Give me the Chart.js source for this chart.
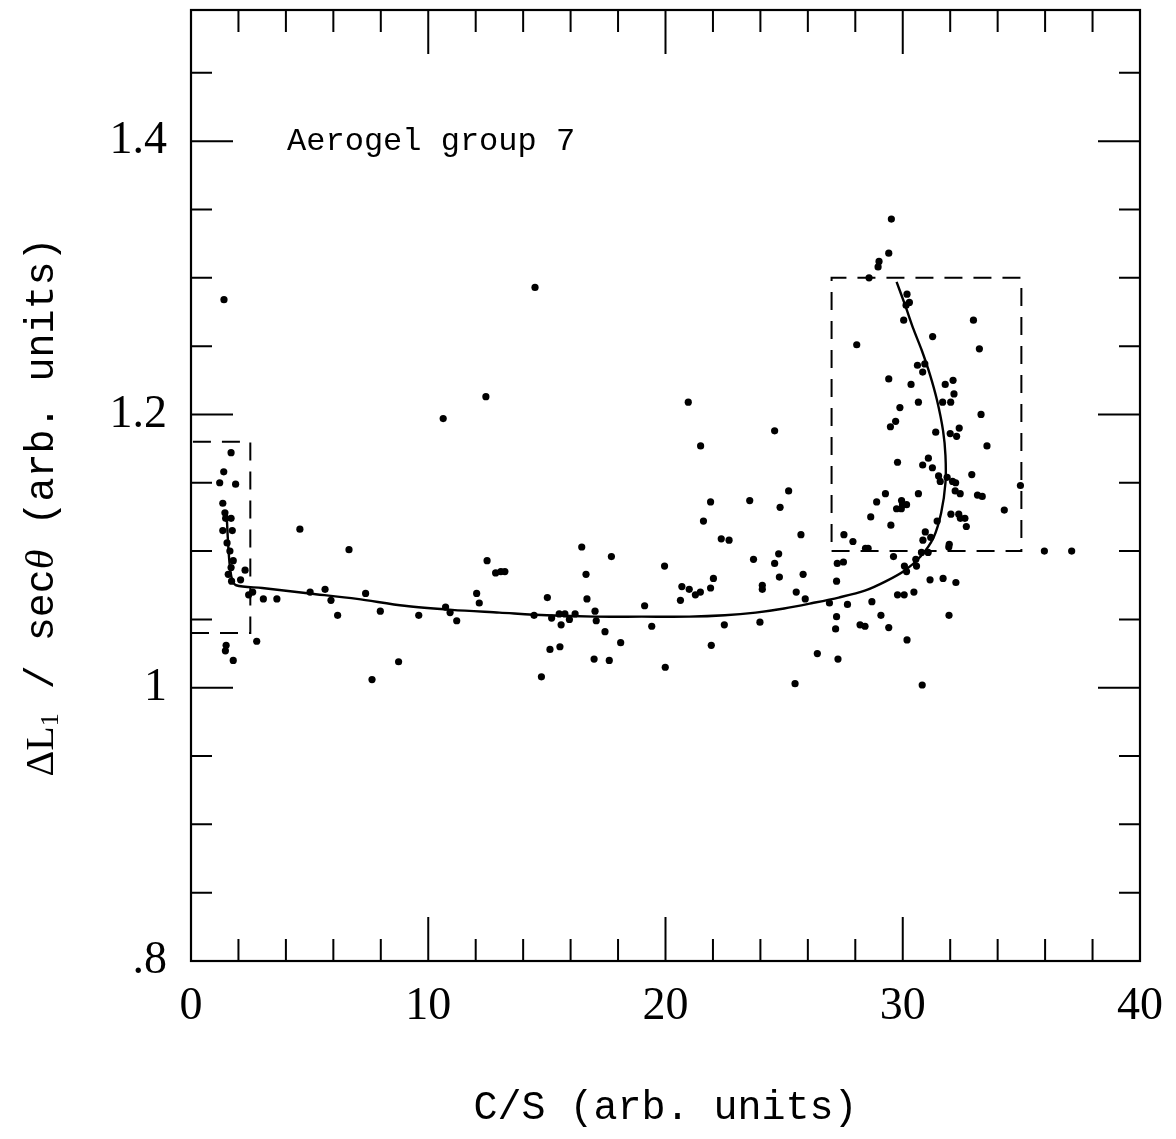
<!DOCTYPE html>
<html>
<head>
<meta charset="utf-8">
<script src="https://cdn.jsdelivr.net/npm/chart.js@4.4.1/dist/chart.umd.min.js"></script>
<style>
  html, body { margin: 0; padding: 0; background: #fff; }
  canvas { display: block; }
</style>
</head>
<body>
<canvas id="aerogelChart" width="1176" height="1139"></canvas>
<script>
// axes
const xTicks = [0, 10, 20, 30, 40];
const xTickLabels = ['0', '10', '20', '30', '40'];
const yTicks = [0.8, 1.0, 1.2, 1.4];
const yTickLabels = ['.8', '1', '1.2', '1.4'];

// measured events: C/S and dL1/sec(theta)
const csValues = [
  1.39, 1.69, 1.38, 1.21, 1.88, 1.34, 1.43, 1.46, 1.69, 1.34, 1.74, 1.52, 1.64, 1.78, 1.69, 1.57,
  2.28, 1.71, 2.09, 2.60, 2.43, 3.05, 3.62, 4.59, 5.02, 5.65, 5.90, 6.18, 6.66, 7.36, 2.77, 1.48,
  1.45, 1.78,
  12.43, 10.63, 16.47, 17.72, 19.96, 12.48, 12.84, 13.06, 13.23, 16.65, 12.04, 12.15, 15.02, 16.69,
  19.12, 7.98, 9.60, 10.73, 10.92, 11.20, 14.46, 15.20, 15.52, 15.76, 16.19, 15.95, 17.03, 17.08,
  15.60, 17.45, 19.42, 18.11, 15.13, 15.55, 16.99, 17.63, 19.99, 8.75, 7.63, 14.77, 14.50,
  20.96, 24.60, 21.48, 25.19, 21.90, 23.55, 24.83, 21.60, 22.35, 22.68, 23.71, 24.77, 24.60, 22.02,
  24.80, 20.69, 21.00, 21.26, 21.47, 21.90, 24.08, 24.08, 25.51, 20.63, 22.48, 23.98, 21.93, 25.46,
  25.71, 25.80, 25.89, 26.91, 27.24, 27.21, 27.21, 27.17, 27.27, 26.40,
  29.52, 29.41, 29.00, 28.96, 28.58, 30.18, 30.14, 30.28, 30.04, 32.98, 31.26, 28.06, 33.23, 30.62,
  30.93, 30.84, 29.41, 30.35, 31.79, 32.12, 32.16, 29.88, 30.66, 31.68, 32.02, 33.30, 29.70, 29.48,
  31.39, 32.00, 32.27, 32.38, 33.55,
  29.78, 31.08, 30.84, 31.25, 32.91, 31.51, 31.58, 31.87, 32.10, 32.23, 34.96, 30.66, 29.27, 32.21,
  32.42, 33.15, 33.35, 28.90, 29.95, 30.16, 29.99, 29.74, 29.94, 28.65, 32.03, 32.36, 32.43, 32.62,
  34.28, 29.50, 31.45, 32.68, 27.52, 27.90, 30.95, 30.85, 31.18, 31.96, 31.94, 28.43, 28.54, 35.97,
  37.12, 30.79, 31.07, 29.61, 30.55, 27.50, 30.58, 30.07, 30.16, 31.15, 31.70, 32.24, 29.78, 30.06,
  30.47, 27.67, 28.70, 29.08, 28.20, 28.41, 29.41, 31.95, 30.18, 30.82
];
const dlValues = [
  1.284, 1.172, 1.158, 1.150, 1.149, 1.135, 1.128, 1.124, 1.124, 1.115, 1.115, 1.106, 1.100, 1.093, 1.088, 1.083,
  1.086, 1.078, 1.079, 1.070, 1.068, 1.065, 1.065, 1.116, 1.070, 1.072, 1.064, 1.053, 1.101, 1.069, 1.034, 1.031,
  1.027, 1.020,
  1.213, 1.197, 1.103, 1.096, 1.089, 1.093, 1.084, 1.085, 1.085, 1.083, 1.069, 1.062, 1.066, 1.065,
  1.060, 1.056, 1.053, 1.059, 1.055, 1.049, 1.053, 1.051, 1.054, 1.054, 1.054, 1.050, 1.056, 1.049,
  1.046, 1.041, 1.045, 1.033, 1.028, 1.030, 1.021, 1.020, 1.015, 1.019, 1.006, 1.008, 1.293,
  1.209, 1.188, 1.177, 1.144, 1.136, 1.137, 1.132, 1.122, 1.109, 1.108, 1.094, 1.098, 1.091, 1.080,
  1.081, 1.074, 1.072, 1.068, 1.070, 1.073, 1.075, 1.072, 1.070, 1.064, 1.046, 1.048, 1.031, 1.003,
  1.112, 1.083, 1.065, 1.062, 1.091, 1.078, 1.052, 1.043, 1.021, 1.025,
  1.343, 1.318, 1.312, 1.308, 1.300, 1.288, 1.280, 1.282, 1.269, 1.269, 1.257, 1.251, 1.248, 1.236,
  1.237, 1.231, 1.226, 1.222, 1.222, 1.225, 1.215, 1.205, 1.209, 1.209, 1.209, 1.200, 1.195, 1.191,
  1.187, 1.186, 1.184, 1.190, 1.177,
  1.165, 1.168, 1.163, 1.161, 1.156, 1.155, 1.151, 1.154, 1.151, 1.150, 1.148, 1.142, 1.142, 1.144,
  1.142, 1.141, 1.140, 1.136, 1.137, 1.134, 1.134, 1.131, 1.131, 1.125, 1.127, 1.127, 1.124, 1.124,
  1.130, 1.119, 1.122, 1.118, 1.112, 1.107, 1.114, 1.108, 1.110, 1.105, 1.103, 1.102, 1.102, 1.100,
  1.100, 1.099, 1.099, 1.096, 1.094, 1.092, 1.089, 1.089, 1.085, 1.079, 1.080, 1.077, 1.068, 1.068,
  1.070, 1.061, 1.063, 1.053, 1.046, 1.045, 1.044, 1.053, 1.035, 1.002
];

// fitted curve
const curveX = [1.50, 1.55, 1.62, 1.72, 1.90, 3.0, 5.0, 7.0, 9.0, 11.0, 13.0, 15.0, 17.0, 19.0, 21.0,
  22.5, 23.8, 25.0, 26.2, 27.3, 28.4, 29.3, 30.1, 30.75, 31.3, 31.62, 31.80, 31.80, 31.70, 31.45,
  31.15, 30.80, 30.44, 30.10, 29.74];
const curveY = [1.128, 1.110, 1.092, 1.080, 1.075, 1.073, 1.069, 1.065, 1.060, 1.057, 1.055, 1.053,
  1.052, 1.052, 1.052, 1.053, 1.055, 1.058, 1.062, 1.066, 1.071, 1.078, 1.086, 1.096, 1.110, 1.128,
  1.150, 1.170, 1.188, 1.210, 1.229, 1.247, 1.263, 1.280, 1.297];

// dashed selection boxes
const box1X = [0, 2.5, 2.5, 0, 0];
const box1Y = [1.04, 1.04, 1.18, 1.18, 1.04];
const box2X = [27, 35, 35, 27, 27];
const box2Y = [1.1, 1.1, 1.3, 1.3, 1.1];

const toXY = (xs, ys) => xs.map((x, i) => ({ x: x, y: ys[i] }));

const serif = 'Liberation Serif';
const mono = 'Liberation Mono';

// frame with inward ticks on all four sides, plus labels
const framePlugin = {
  id: 'frame',
  afterDraw(chart) {
    const ctx = chart.ctx;
    const a = chart.chartArea;
    const xs = chart.scales.x, ys = chart.scales.y;
    ctx.save();
    ctx.strokeStyle = '#000';
    ctx.lineWidth = 2.2;
    ctx.strokeRect(a.left, a.top, a.right - a.left, a.bottom - a.top);
    ctx.lineWidth = 2;
    ctx.beginPath();
    for (let v = 0; v <= 40; v += 2) {
      const p = xs.getPixelForValue(v);
      const len = v % 10 === 0 ? 44 : 22;
      ctx.moveTo(p, a.bottom); ctx.lineTo(p, a.bottom - len);
      ctx.moveTo(p, a.top); ctx.lineTo(p, a.top + len);
    }
    for (let k = 0; k <= 13; k++) {
      const v = 0.8 + k * 0.05;
      const p = ys.getPixelForValue(v);
      const len = k % 4 === 0 ? 42 : 21;
      ctx.moveTo(a.left, p); ctx.lineTo(a.left + len, p);
      ctx.moveTo(a.right, p); ctx.lineTo(a.right - len, p);
    }
    ctx.stroke();

    ctx.fillStyle = '#000';
    ctx.textBaseline = 'middle';
    ctx.textAlign = 'left';
    ctx.font = '32px "' + mono + '"';
    ctx.fillText('Aerogel group 7', xs.getPixelForValue(4.05), ys.getPixelForValue(1.4));

    ctx.textAlign = 'center';
    ctx.font = '40px "' + mono + '"';
    ctx.fillText('C/S (arb. units)', (a.left + a.right) / 2, 1108);

    // y title, mixed fonts, rotated
    const parts = [
      { t: '\u0394L', f: '40px "' + serif + '"', dy: 0 },
      { t: '1', f: '26px "' + serif + '"', dy: 9 },
      { t: ' / sec', f: '40px "' + mono + '"', dy: 0 },
      { t: '\u03b8', f: 'italic 40px "' + serif + '"', dy: 0 },
      { t: ' (arb. units)', f: '40px "' + mono + '"', dy: 0 }
    ];
    let total = 0;
    parts.forEach(p => { ctx.font = p.f; p.w = ctx.measureText(p.t).width; total += p.w; });
    ctx.translate(42, 507);
    ctx.rotate(-Math.PI / 2);
    ctx.textAlign = 'left';
    let cx = -total / 2;
    parts.forEach(p => { ctx.font = p.f; ctx.fillText(p.t, cx, p.dy); cx += p.w; });
    ctx.restore();
  }
};

const ctx = document.getElementById('aerogelChart').getContext('2d');
const myChart = new Chart(ctx, {
  type: 'scatter',
  data: {
    datasets: [{
      label: 'events',
      data: toXY(csValues, dlValues),
      backgroundColor: '#000',
      borderWidth: 0,
      pointRadius: 3.6
    }, {
      label: 'fit',
      data: toXY(curveX, curveY),
      showLine: true,
      borderColor: '#000',
      borderWidth: 2.4,
      pointRadius: 0,
      tension: 0.3,
      fill: false
    }, {
      label: 'box1',
      data: toXY(box1X, box1Y),
      showLine: true,
      borderColor: '#000',
      borderWidth: 2,
      borderDash: [18, 11],
      pointRadius: 0,
      tension: 0
    }, {
      label: 'box2',
      data: toXY(box2X, box2Y),
      showLine: true,
      borderColor: '#000',
      borderWidth: 2,
      borderDash: [18, 11],
      pointRadius: 0,
      tension: 0
    }]
  },
  options: {
    responsive: false,
    animation: false,
    devicePixelRatio: 1,
    layout: { padding: { top: 10, right: 36, left: 0, bottom: 0 } },
    plugins: { legend: { display: false }, tooltip: { enabled: false } },
    scales: {
      x: {
        type: 'linear',
        min: 0,
        max: 40,
        afterBuildTicks: s => { s.ticks = xTicks.map(v => ({ value: v })); },
        afterFit: s => { s.height = 178; s.paddingLeft = 0; s.paddingRight = 0; },
        grid: { display: false, drawTicks: false },
        border: { display: false },
        ticks: {
          callback: (v, i) => xTickLabels[i],
          font: { family: serif, size: 46 },
          color: '#000',
          padding: 18,
          maxRotation: 0,
          autoSkip: false
        }
      },
      y: {
        type: 'linear',
        min: 0.8,
        max: 1.496,
        afterBuildTicks: s => { s.ticks = yTicks.map(v => ({ value: v })); },
        afterFit: s => { s.width = 191; s.paddingTop = 0; s.paddingBottom = 0; },
        grid: { display: false, drawTicks: false },
        border: { display: false },
        ticks: {
          callback: (v, i) => yTickLabels[i],
          font: { family: serif, size: 46 },
          color: '#000',
          padding: 24,
          autoSkip: false
        }
      }
    }
  },
  plugins: [framePlugin]
});
</script>
</body>
</html>
